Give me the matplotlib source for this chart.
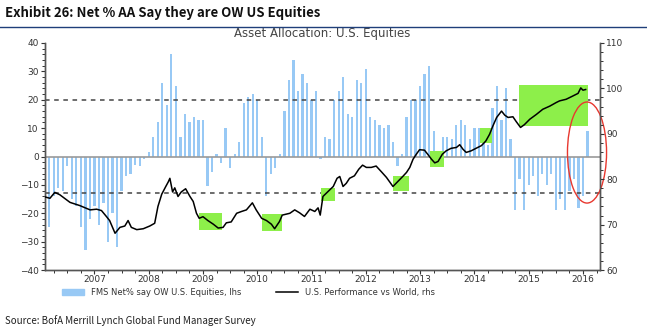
import numpy as np
import matplotlib.pyplot as plt
from matplotlib.patches import Rectangle, Ellipse, Patch
from matplotlib.lines import Line2D
from matplotlib.ticker import MultipleLocator, FixedLocator

# FMS net % saying overweight US equities, monthly from Mar 2006
first_month = 2006 + 2 / 12
fms_net_ow = [
    -25, -14, -11, -12, -3.5, -15, -17.5, -25, -33, -22, -17.5, -24,
    -16.5, -30, -20, -32, -12, -7, -6, -3, -3.5, -1, 1.7, 7,
    12, 26, 18, 36, 25, 7, 15, 12, 14, 13, 13, -10.4,
    -5.3, 1, -2.4, 10, -4, 1, 5, 19, 21, 22, 20, 7,
    -14, -6, -4, 1, 16, 27, 34, 23, 29, 26, 20, 23,
    -1, 7, 6, 20, 23, 28, 15, 14, 27, 26, 31, 14,
    13, 11, 10, 11, 5, -3.3, 1, 14, 20, 20, 25, 29,
    32, 9, 2, 7, 7, 6, 11, 13, 11, 6, 10, 10,
    8, 4, 17, 25, 13, 24, 6, -19, -8, -19, -10, -7,
    -14, -6, -10, -6, -19, -15, -19, -12, -8, -18, -14, 9,
]

# US performance vs World (rhs)
perf_years = [
    2006.09, 2006.18, 2006.27, 2006.36, 2006.55, 2006.73, 2006.92, 2007.04,
    2007.13, 2007.22, 2007.28, 2007.38, 2007.47, 2007.56, 2007.62, 2007.68,
    2007.78, 2007.90, 2008.02, 2008.11, 2008.17, 2008.24, 2008.31, 2008.36,
    2008.39, 2008.44, 2008.48, 2008.54, 2008.60, 2008.68, 2008.76, 2008.82,
    2008.88, 2008.93, 2009.00, 2009.09, 2009.19, 2009.28, 2009.37, 2009.43,
    2009.52, 2009.62, 2009.71, 2009.80, 2009.91, 2009.98, 2010.08, 2010.17,
    2010.26, 2010.32, 2010.41, 2010.46, 2010.60, 2010.69, 2010.78, 2010.87,
    2010.97, 2011.06, 2011.12, 2011.16, 2011.21, 2011.30, 2011.40, 2011.47,
    2011.52, 2011.58, 2011.64, 2011.70, 2011.79, 2011.87, 2011.94, 2012.01,
    2012.10, 2012.19, 2012.29, 2012.38, 2012.50, 2012.59, 2012.68, 2012.75,
    2012.81, 2012.87, 2012.93, 2012.99, 2013.08, 2013.14, 2013.21, 2013.27,
    2013.33, 2013.41, 2013.48, 2013.57, 2013.67, 2013.73, 2013.79, 2013.85,
    2013.94, 2014.03, 2014.13, 2014.21, 2014.28, 2014.34, 2014.41, 2014.50,
    2014.56, 2014.62, 2014.71, 2014.77, 2014.85, 2014.92, 2015.02, 2015.14,
    2015.26, 2015.39, 2015.51, 2015.57, 2015.69, 2015.81, 2015.91, 2015.96,
    2016.00, 2016.05,
]
perf_vs_world = [
    76.1, 75.8, 77.1, 76.6, 74.9, 74.2, 73.25, 73.4,
    73.1, 71.8, 70.9, 68.1, 69.4, 69.7, 70.9, 69.4,
    68.9, 69.1, 69.7, 70.3, 74.0, 76.7, 78.3, 79.4,
    80.2, 77.2, 78.1, 76.2, 77.2, 77.9, 76.2, 75.1,
    72.5, 71.4, 71.75, 70.9, 70.1, 69.25, 69.4, 70.4,
    70.6, 72.5, 72.9, 73.25, 74.8, 73.25, 71.4, 70.9,
    70.1, 69.1, 70.7, 72.1, 72.5, 73.25, 72.6, 71.8,
    73.4, 72.9, 73.7, 72.1, 76.2, 77.25, 78.4, 80.2,
    80.6, 78.4, 79.1, 80.2, 80.75, 82.2, 83.1, 82.6,
    82.6, 82.9, 81.6, 80.4, 78.4, 79.5, 80.6, 81.5,
    82.6, 84.4, 85.5, 86.5, 86.4, 85.5, 84.4, 83.6,
    83.9, 85.5, 86.25, 86.8, 87.0, 87.6, 86.6, 85.9,
    86.25, 86.8, 87.4, 88.4, 89.9, 91.7, 93.6, 95.0,
    94.1, 93.6, 93.75, 92.7, 91.4, 92.0, 93.2, 94.25,
    95.4, 96.1, 96.9, 97.25, 97.6, 98.3, 98.9, 100.1,
    99.6, 99.75,
]

# highlighted periods (x from, x to, lhs low, lhs high)
highlights = [
    (2008.93, 2009.35, -25.9, -20.0),
    (2010.09, 2010.46, -26.3, -20.4),
    (2011.18, 2011.43, -15.7, -11.0),
    (2012.50, 2012.79, -12.2, -6.8),
    (2013.18, 2013.44, -3.8, 1.9),
    (2014.10, 2014.33, 4.8, 10.2),
    (2014.82, 2016.10, 10.7, 25.2),
]

years = list(range(2007, 2017))
bar_x = first_month + np.arange(len(fms_net_ow)) / 12

fig = plt.figure(figsize=(6.47, 3.33), dpi=100)
ax = fig.add_axes([0.0696, 0.189, 0.8574, 0.682])
ax2 = ax.twinx()

ax.bar(bar_x, fms_net_ow, width=0.042, color='#98c9f5', zorder=1)
ax.axhline(0, color='#999999', lw=1.2, zorder=2)
for yv in (20, -12.75):
    ax.axhline(yv, color='#444444', lw=1.1, ls=(0, (3, 3)), zorder=2)
for x0, x1, y0, y1 in highlights:
    ax.add_patch(Rectangle((x0, y0), x1 - x0, y1 - y0, color='#8def4a', lw=0, zorder=3))

ax2.plot(perf_years, perf_vs_world, color='black', lw=1.1, zorder=4)

ax.set_xlim(2006.09, 2016.31)
ax.set_ylim(-40, 40)
ax2.set_ylim(60, 110)

ell = Ellipse((2016.075, 1.4), 0.72, 35.6, fill=False, ec='#e8382f', lw=1.0,
              clip_on=False, zorder=6)
ax.add_patch(ell)

tick_kw = dict(labelsize=6.5, colors='#333333', length=3, width=0.8, pad=1.5)
ax.yaxis.set_major_locator(MultipleLocator(10))
ax.yaxis.set_minor_locator(MultipleLocator(2))
ax2.yaxis.set_major_locator(MultipleLocator(10))
ax2.yaxis.set_minor_locator(MultipleLocator(2))
ax.xaxis.set_major_locator(FixedLocator(years))
ax.xaxis.set_minor_locator(MultipleLocator(0.25))
ax.set_xticklabels([str(y) for y in years])
ax.tick_params(axis='both', which='major', **tick_kw)
ax.tick_params(axis='x', which='major', pad=0.5)
ax.tick_params(axis='both', which='minor', length=2, width=0.7, colors='#333333')
ax2.tick_params(axis='y', which='major', **tick_kw)
ax2.tick_params(axis='y', which='minor', length=2, width=0.7, colors='#333333')

for a in (ax, ax2):
    a.spines['top'].set_visible(False)
    for s in ('left', 'right', 'bottom'):
        a.spines[s].set_color('#555555')
        a.spines[s].set_linewidth(1.0)

# titles and texts
narrow = ['Noto Sans CJK JP', 'DejaVu Sans']
fig.text(0.008, 0.962, 'Exhibit 26: Net % AA Say they are OW US Equities',
         fontsize=9.5, fontweight='bold', color='#111111', va='center', family=narrow)
fig.add_artist(Line2D([0, 1], [0.918, 0.918], color='#1f3f7a', lw=1.0))
ax.set_title('Asset Allocation: U.S. Equities', fontsize=8.5, color='#444444', pad=4)
fig.text(0.008, 0.036, 'Source: BofA Merrill Lynch Global Fund Manager Survey',
         fontsize=7, color='#222222', va='center', family=narrow)

handles = [Patch(color='#98c9f5'), Line2D([], [], color='black', lw=1.1)]
labels = ['FMS Net% say OW U.S. Equities, lhs', 'U.S. Performance vs World, rhs']
fig.legend(handles, labels, loc='center left', bbox_to_anchor=(0.085, 0.122),
           ncol=2, frameon=False, fontsize=6, handlelength=2.6,
           handleheight=0.6, handletextpad=0.8, columnspacing=4.2,
           labelcolor='#333333')

fig.savefig('out.png', dpi=100)
